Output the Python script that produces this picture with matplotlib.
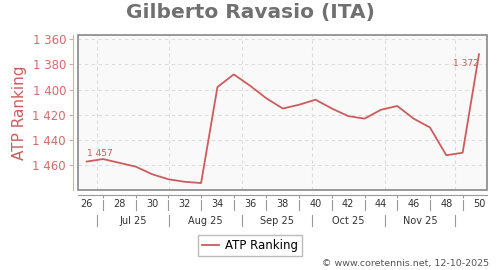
import matplotlib
matplotlib.use("Agg")
import matplotlib.pyplot as plt
import matplotlib.transforms as mtransforms
from matplotlib.patches import Rectangle

# data
weeks = list(range(26, 51))
ranking = [1457, 1455, 1458, 1461, 1467, 1471, 1473, 1474, 1398, 1388,
           1397, 1407, 1415, 1412, 1408, 1415, 1421, 1423, 1416, 1413,
           1423, 1430, 1452, 1450, 1372]
week_labels = list(range(26, 51, 2))
month_names = ["Jul 25", "Aug 25", "Sep 25", "Oct 25", "Nov 25"]
month_bounds = [26.61, 31.05, 35.48, 39.76, 44.24, 48.53]
y_ticks = [1360, 1380, 1400, 1420, 1440, 1460]

red = "#cd5c5c"
tick_red = "#d46a6a"
grid_c = "#dcdcdc"

fig = plt.figure(figsize=(5, 2.7), dpi=100)
ax = fig.add_axes([0.156, 0.2963, 0.818, 0.5741])
ax.set_facecolor("#f9f9f9")

ax.plot(weeks, ranking, color=red, lw=1.3, zorder=3)

ax.set_xlim(25.47, 50.49)
ax.set_ylim(1479.5, 1356.8)

# grid
for b in month_bounds:
    ax.axvline(b, color=grid_c, lw=0.8, ls=(0, (3, 3)), zorder=1)
for t in y_ticks:
    ax.axhline(t, color=grid_c, lw=0.8, ls=(0, (3, 3)), zorder=1)

# spines
for s in ["top", "right"]:
    ax.spines[s].set_visible(False)
ax.spines["left"].set_position(("outward", 3.6))
ax.spines["left"].set_color("#e3a9a9")
ax.spines["bottom"].set_position(("outward", 3.6))
ax.spines["bottom"].set_color("#999999")
ax.add_patch(Rectangle((0, 0), 1, 1, transform=ax.transAxes, fill=False,
                       edgecolor="#888888", lw=1.2, zorder=4, clip_on=False))

ax.set_yticks(y_ticks)
ax.set_yticklabels(["1 %03d" % (v - 1000) for v in y_ticks])
ax.tick_params(axis="y", colors="#e3a9a9", labelcolor=tick_red,
               labelsize=8.5, length=3, pad=2)

ax.set_xticks([w for w in weeks if w % 2 == 1])
ax.set_xticklabels([])
ax.tick_params(axis="x", colors="#999999", length=2)

# week labels + separators, month labels + separators
tr = mtransforms.blended_transform_factory(ax.transData, fig.transFigure)
for w in week_labels:
    ax.text(w, 0.2433, str(w), transform=tr, ha="center", va="center",
            fontsize=7, color="#333333")
for w in weeks:
    if w % 2 == 1:
        ax.plot([w, w], [0.2593, 0.2222], transform=tr, color="#999999",
                lw=0.8, clip_on=False)
for i, name in enumerate(month_names):
    mid = (month_bounds[i] + month_bounds[i + 1]) / 2
    ax.text(mid, 0.1826, name, transform=tr, ha="center", va="center",
            fontsize=7, color="#333333")
for b in month_bounds:
    ax.plot([b, b], [0.2037, 0.1630], transform=tr, color="#999999",
            lw=0.8, clip_on=False)

# point labels
ax.annotate("1 457", (weeks[0], ranking[0]), xytext=(0, 4),
            textcoords="offset pixels", ha="left", va="bottom",
            fontsize=6.5, color=red)
ax.annotate("1 372", (weeks[-1], ranking[-1]), xytext=(0, -9),
            textcoords="offset pixels", ha="right", va="center",
            fontsize=6.5, color=red)

fig.text(0.5, 0.952, "Gilberto Ravasio (ITA)", ha="center", va="center",
         fontsize=14.5, fontweight="bold", color="#707070")
fig.text(0.04, 0.582, "ATP Ranking", rotation=90, ha="center", va="center",
         fontsize=11, color=red)

fig.legend(["ATP Ranking"], loc="center", bbox_to_anchor=(0.5, 0.0907),
           fontsize=8.5, frameon=True, fancybox=False, edgecolor="#aaaaaa",
           handlelength=1.4, borderpad=0.35, handletextpad=0.5)

fig.text(0.978, 0.025, "\u00a9 www.coretennis.net, 12-10-2025", ha="right",
         va="center", fontsize=6.8, color="#555555")

fig.savefig("out.png", dpi=100)
